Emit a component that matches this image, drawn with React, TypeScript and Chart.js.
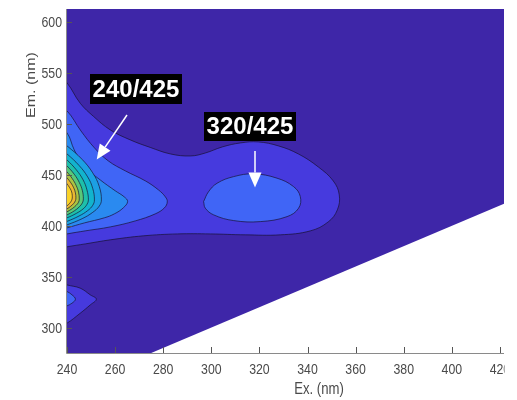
import React, { useEffect, useRef } from 'react';
import { Chart, registerables } from 'chart.js';

Chart.register(...registerables);

// ---- axes ----
const xTickValues = [240, 260, 280, 300, 320, 340, 360, 380, 400, 420];
const yTickValues = [300, 350, 400, 450, 500, 550, 600];
const xLimits = [240, 421.7];
const yLimits = [275, 613];
const xTitle = 'Ex. (nm)';
const yTitle = 'Em. (nm)';

// ---- measured region (below em = ex there is no data) ----
const dataDomain = [[230, 265], [265, 265], [430, 430], [430, 625], [230, 625]];

// ---- contour level outlines, [Ex, Em] ----
const contourL1Main = [
  [236, 548], [240, 540.4], [245.5, 520.4], [251.1, 507.3], [258.0, 494.2], [266.3, 484.4],
  [274.6, 477.0], [283.0, 470.6], [291.3, 468.6], [297.5, 471.5], [304.6, 477.5], [312.1, 481.4],
  [319.5, 482.4], [327.9, 478.5], [336.2, 470.6], [344.5, 457.8], [350.7, 444.1], [353.2, 430.4],
  [352.4, 415.6], [348.6, 403.8], [341.2, 395.0], [328.7, 391.1], [314.1, 391.1], [299.6, 392.0],
  [285.9, 392.0], [271.7, 390.1], [258.0, 386.2], [247.6, 382.2], [240, 379.3], [236, 377],
];
const contourL1Low = [
  [236, 345], [240, 341.9], [245.5, 338.7], [249.7, 332.1], [252.2, 327.9], [249.7, 322.3],
  [245.5, 314.1], [240, 304.3], [236, 300],
];
const contourL2Main = [
  [236, 518], [240, 512.9], [245.8, 493.2], [251.4, 476.6], [257.2, 463.7], [264.3, 453.9],
  [272.6, 444.1], [278.0, 435.3], [280.9, 428.4], [281.7, 423.5], [280.5, 417.6], [276.7, 411.7],
  [268.4, 404.8], [258.0, 398.9], [247.6, 395.0], [240, 392.0], [236, 390],
];
const contourL2Mid = [
  [296.8, 423.8], [298.8, 433.3], [302.4, 441.8], [309.3, 448.3], [317.6, 451.0], [327.3, 446.8],
  [334.2, 438.5], [337.0, 428.7], [336.3, 417.3], [331.5, 409.0], [320.4, 404.1], [309.3, 405.1],
  [301.0, 410.7], [297.5, 417.3], [296.8, 423.8],
];
const contourL2Low = [
  [238, 337], [240, 335.4], [242.1, 332.1], [243.5, 327.9], [242.1, 324.0], [240, 321.3], [238, 319],
];
const contourL3 = [
  [236, 497], [240, 491.3], [243.0, 474.6], [247.2, 458.2], [253.8, 445.1], [260.1, 434.3],
  [263.8, 428.4], [265.2, 423.8], [263.4, 417.6], [259.7, 411.7], [255.5, 407.8], [247.2, 402.8],
  [240, 397.9], [236, 395],
];
const contourL4 = [
  [235.4, 486.5], [240, 478.5], [246.3, 465.2], [250.7, 452.0], [253.4, 438.7], [254.3, 425.4],
  [253.4, 419.3], [250.7, 413.2], [246.3, 407.0], [240, 400.9], [235.4, 397.2],
];
const contourL5 = [
  [236.3, 477.4], [240, 470.6], [245.0, 459.3], [248.6, 448.0], [250.7, 436.7], [251.4, 425.4],
  [250.7, 420.1], [248.6, 414.9], [245.0, 409.6], [240, 404.3], [236.3, 401.1],
];
const contourL6 = [
  [237.1, 470.6], [240, 464.7], [243.9, 454.9], [246.7, 445.1], [248.3, 435.2], [248.9, 425.4],
  [248.3, 421.0], [246.7, 416.6], [243.9, 412.2], [240, 407.8], [237.1, 405.2],
];
const contourL7 = [
  [237.8, 463.7], [240, 458.8], [243.0, 450.7], [245.1, 442.6], [246.4, 434.5], [246.8, 426.4],
  [246.4, 422.5], [245.1, 418.6], [243.0, 414.6], [240, 410.7], [237.8, 408.3],
];
const contourL8 = [
  [238.4, 456.9], [240, 452.9], [242.2, 446.3], [243.8, 439.7], [244.8, 433.0], [245.1, 426.4],
  [244.8, 423.2], [243.8, 420.1], [242.2, 416.9], [240, 413.7], [238.4, 411.8],
];
const contourL9 = [
  [238.8, 450.1], [240, 447.1], [241.6, 442.2], [242.8, 437.3], [243.5, 432.3], [243.7, 427.4],
  [243.5, 424.7], [242.8, 422.0], [241.6, 419.3], [240, 416.6], [238.8, 415.0],
];
const contourL10 = [
  [239.3, 443.1], [240, 441.2], [241.0, 437.8], [241.7, 434.8], [242.1, 431.6], [242.2, 428.4],
  [242.1, 426.2], [241.7, 424.0], [241.0, 421.8], [240, 419.6], [239.3, 418.3],
];

const levelColors = [
  'rgb(62,38,168)',
  'rgb(70,58,222)',
  'rgb(64,101,246)',
  'rgb(42,138,240)',
  'rgb(28,160,228)',
  'rgb(18,180,205)',
  'rgb(30,192,170)',
  'rgb(90,200,120)',
  'rgb(170,195,65)',
  'rgb(235,185,50)',
  'rgb(250,210,40)',
];

const peakLabels = ['240/425', '320/425'];

const layers = [
  { pts: dataDomain, level: 0, outline: false },
  { pts: contourL1Main, level: 1 },
  { pts: contourL1Low, level: 1 },
  { pts: contourL2Main, level: 2 },
  { pts: contourL2Mid, level: 2 },
  { pts: contourL2Low, level: 2 },
  { pts: contourL3, level: 3 },
  { pts: contourL4, level: 4 },
  { pts: contourL5, level: 5 },
  { pts: contourL6, level: 6 },
  { pts: contourL7, level: 7 },
  { pts: contourL8, level: 8 },
  { pts: contourL9, level: 9 },
  { pts: contourL10, level: 10 },
];

const FONT = '"Liberation Sans", Arial, Helvetica, sans-serif';
const SQUEEZE = 0.82;

function drawArrow(ctx: CanvasRenderingContext2D, x0: number, y0: number, x1: number, y1: number) {
  const dx = x1 - x0;
  const dy = y1 - y0;
  const len = Math.hypot(dx, dy);
  const ux = dx / len;
  const uy = dy / len;
  const headLen = 15;
  const half = 6.5;
  const bx = x1 - ux * headLen;
  const by = y1 - uy * headLen;
  ctx.strokeStyle = '#ffffff';
  ctx.fillStyle = '#ffffff';
  ctx.lineWidth = 1.5;
  ctx.beginPath();
  ctx.moveTo(x0, y0);
  ctx.lineTo(bx, by);
  ctx.stroke();
  ctx.beginPath();
  ctx.moveTo(x1, y1);
  ctx.lineTo(bx - uy * half, by + ux * half);
  ctx.lineTo(bx + uy * half, by - ux * half);
  ctx.closePath();
  ctx.fill();
}

function drawLabel(ctx: CanvasRenderingContext2D, text: string, x: number, y: number, w: number, h: number) {
  ctx.fillStyle = '#000000';
  ctx.fillRect(x, y, w, h);
  ctx.fillStyle = '#ffffff';
  ctx.font = `bold 24px ${FONT}`;
  ctx.textAlign = 'center';
  ctx.textBaseline = 'middle';
  ctx.fillText(text, x + w / 2, y + h / 2 + 1);
}

const overlayPlugin = {
  id: 'overlay',
  afterDraw(chart: any) {
    const ctx: CanvasRenderingContext2D = chart.ctx;
    const { left, right, top, bottom } = chart.chartArea;
    const xs = chart.scales.x;
    const ys = chart.scales.y;
    ctx.save();

    // annotations
    drawLabel(ctx, peakLabels[0], 90, 74, 92, 30);
    drawLabel(ctx, peakLabels[1], 204, 112, 92, 29);
    drawArrow(ctx, 127, 115, 96.7, 159.5);
    drawArrow(ctx, 255, 151, 255, 187.5);

    // axis lines
    ctx.strokeStyle = '#8a8a8a';
    ctx.lineWidth = 1;
    ctx.beginPath();
    ctx.moveTo(left - 0.5, top);
    ctx.lineTo(left - 0.5, bottom + 0.5);
    ctx.lineTo(right, bottom + 0.5);
    ctx.stroke();

    // inward ticks
    ctx.strokeStyle = '#555555';
    ctx.beginPath();
    xTickValues.forEach((v) => {
      const px = Math.round(xs.getPixelForValue(v)) + 0.5;
      ctx.moveTo(px, bottom);
      ctx.lineTo(px, bottom - 6);
    });
    yTickValues.forEach((v) => {
      const py = Math.round(ys.getPixelForValue(v)) + 0.5;
      ctx.moveTo(left, py);
      ctx.lineTo(left + 5, py);
    });
    ctx.stroke();

    // tick labels
    ctx.fillStyle = '#4a4a4a';
    ctx.font = `15px ${FONT}`;
    ctx.textBaseline = 'middle';
    xTickValues.forEach((v) => {
      ctx.save();
      ctx.translate(xs.getPixelForValue(v), 370);
      ctx.scale(SQUEEZE, 1);
      ctx.textAlign = 'center';
      ctx.fillText(String(v), 0, 0);
      ctx.restore();
    });
    yTickValues.forEach((v) => {
      ctx.save();
      ctx.translate(left - 5, ys.getPixelForValue(v) + 1);
      ctx.scale(SQUEEZE, 1);
      ctx.textAlign = 'right';
      ctx.fillText(String(v), 0, 0);
      ctx.restore();
    });

    // axis titles
    ctx.font = `16px ${FONT}`;
    ctx.save();
    ctx.translate(319, 390);
    ctx.scale(SQUEEZE, 1);
    ctx.textAlign = 'center';
    ctx.fillText(xTitle, 0, 0);
    ctx.restore();
    ctx.save();
    ctx.translate(31.5, 85);
    ctx.scale(SQUEEZE, 1);
    ctx.rotate(-Math.PI / 2);
    ctx.textAlign = 'center';
    ctx.fillText(yTitle, 0, 0);
    ctx.restore();

    // figure was cropped at the plot's right edge
    ctx.fillStyle = '#ffffff';
    ctx.fillRect(right + 0.5, 0, 40, chart.height);
    ctx.restore();
  },
};

export default function App() {
  const canvasRef = useRef<HTMLCanvasElement | null>(null);

  useEffect(() => {
    const canvas = canvasRef.current;
    if (!canvas) return;
    const datasets = layers.map((l, i) => ({
      data: l.pts.map(([x, y]) => ({ x, y })),
      showLine: true,
      fill: 'shape',
      backgroundColor: levelColors[l.level],
      borderColor: l.outline === false ? 'rgba(0,0,0,0)' : 'rgba(22,16,48,0.85)',
      borderWidth: l.outline === false ? 0.01 : 0.8,
      tension: l.outline === false ? 0 : 0.4,
      pointRadius: 0,
      pointHoverRadius: 0,
      order: 100 - i,
      clip: 0,
    }));

    const chart = new Chart(canvas, {
      type: 'scatter',
      data: { datasets } as any,
      options: {
        responsive: false,
        animation: false,
        events: [],
        layout: { padding: { left: 67, top: 9, right: 13, bottom: 47 } },
        plugins: {
          legend: { display: false },
          tooltip: { enabled: false },
        },
        scales: {
          x: { type: 'linear', min: xLimits[0], max: xLimits[1], display: false },
          y: { type: 'linear', min: yLimits[0], max: yLimits[1], display: false },
        },
      },
      plugins: [overlayPlugin],
    });
    return () => chart.destroy();
  }, []);

  return (
    <div style={{ position: 'fixed', left: 0, top: 0, width: 517, height: 400, background: '#ffffff' }}>
      <canvas ref={canvasRef} width={517} height={400} style={{ display: 'block', width: 517, height: 400 }} />
    </div>
  );
}
